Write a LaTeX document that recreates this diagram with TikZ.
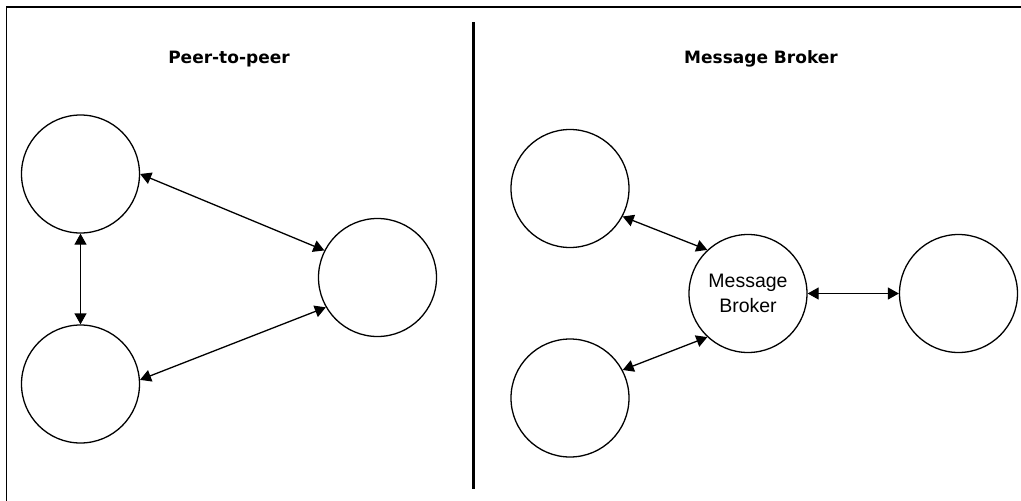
\documentclass[tikz,border=0pt]{standalone}
\usepackage{fontspec}
\setmainfont{Liberation Sans}
\newfontfamily\titlefont{DejaVu Sans}
\usetikzlibrary{arrows.meta}
\begin{document}
\begin{tikzpicture}[x=1pt,y=-1pt,
  peer/.style={circle,draw,line width=1.3pt,minimum size=118pt,inner sep=0pt,
    font=\fontsize{19.5}{25}\selectfont,align=center},
  link/.style={line width=1.3pt,{Triangle[length=11pt,width=12pt]}-{Triangle[length=11pt,width=12pt]}},
  paneltitle/.style={font=\titlefont\bfseries\fontsize{17}{20}\selectfont,anchor=base,inner sep=0pt},
  frameline/.style={line width=1.6pt},
  divider/.style={line width=3pt}]
\useasboundingbox (0,0) rectangle (1021,501);
% frame
\coordinate (ftl) at (6.5,7);
\coordinate (ftr) at (1021,7);
\coordinate (fbl) at (6.5,501);
\draw[frameline] (ftr) -- (ftl) -- (fbl);
% divider
\coordinate (dtop) at (473.5,22);
\coordinate (dbot) at (473.5,489);
\draw[divider] (dtop) -- (dbot);
% titles
\node[paneltitle] (t1) at (229,63) {Peer-to-peer};
\node[paneltitle] (t2) at (761,63) {Message Broker};
% left panel
\node[peer] (A) at (80.5,174) {};
\node[peer] (B) at (80.5,384) {};
\node[peer] (C) at (377.5,277.5) {};
\draw[link] (A.south) -- (B.north);
\draw[link] (A.east) -- (C.153);
\draw[link] (B.4) -- (C.210);
% right panel
\node[peer] (D) at (570,188.5) {};
\node[peer] (E) at (570,398) {};
\node[peer] (M) at (748,293.5) {Message\\Broker};
\node[peer] (F) at (958.5,293.5) {};
\draw[link] (D.-28) -- (M.133);
\draw[link] (E.28) -- (M.227);
\draw[link] (M.east) -- (F.west);
\end{tikzpicture}
\end{document}
